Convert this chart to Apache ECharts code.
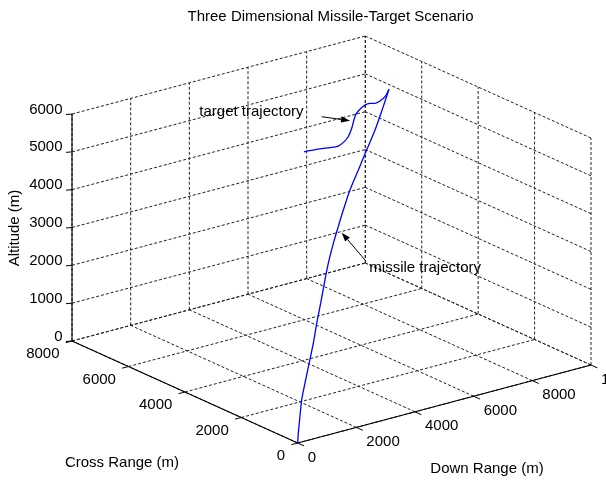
<!DOCTYPE html>
<html>
<head>
<meta charset="utf-8">
<script src="https://cdn.jsdelivr.net/npm/echarts@6/dist/echarts.min.js"></script>
<style>
  html, body { margin: 0; padding: 0; background: #fff; }
  #chart { width: 606px; height: 481px; }
</style>
</head>
<body>
<div id="chart"></div>
<script>
// axis ticks (m)
var downTicks = [0, 2000, 4000, 6000, 8000, 10000];
var crossTicks = [0, 2000, 4000, 6000, 8000];
var altTicks = [0, 1000, 2000, 3000, 4000, 5000, 6000];

// missile path: down range, cross range, altitude (m)
var missileDown = [0, 60, 180, 390, 715, 1040, 1530, 1860, 2255, 2675, 3000, 3490, 3980, 4470, 5125, 5940, 6760, 7575, 8390, 8950];
var missileCross = [0, 40, 120, 265, 485, 705, 1035, 1260, 1530, 1815, 2035, 2365, 2700, 3030, 3475, 4025, 4585, 5135, 5690, 6070];
var missileAlt = [0, 240, 530, 965, 1275, 1555, 1980, 2355, 2715, 3145, 3445, 3760, 3990, 4215, 4460, 4635, 4805, 4980, 5245, 5460];

// target path
var targetDown = [6050, 6485, 6940, 7220, 7425, 7560, 7680, 7755, 7825, 7960, 8130, 8300, 8475, 8645, 8815, 8950];
var targetCross = [6070, 6070, 6070, 6070, 6070, 6070, 6070, 6070, 6070, 6070, 6070, 6070, 6070, 6070, 6070, 6070];
var targetAlt = [4405, 4380, 4330, 4315, 4390, 4490, 4690, 4895, 5035, 5135, 5210, 5220, 5185, 5210, 5290, 5460];

var dMax = 10000, cMax = 8000, aMax = 6000;

// view: projected plane units per metre for each 3d axis
var ex = [0.02933, 0.0078];
var ey = [-0.02821, 0.01275];
var ez = [0, 0.03783];

function proj(d, c, a) {
  return [d * ex[0] + c * ey[0] + a * ez[0], d * ex[1] + c * ey[1] + a * ez[1]];
}

var font = 'Liberation Sans';

// dotted grid on floor and the two back walls
var gridSegs = [];
downTicks.forEach(function (d) {
  gridSegs.push([[d, 0, 0], [d, cMax, 0]]);
  gridSegs.push([[d, cMax, 0], [d, cMax, aMax]]);
});
crossTicks.forEach(function (c) {
  gridSegs.push([[0, c, 0], [dMax, c, 0]]);
  gridSegs.push([[dMax, c, 0], [dMax, c, aMax]]);
});
altTicks.forEach(function (a) {
  gridSegs.push([[0, cMax, a], [dMax, cMax, a]]);
  gridSegs.push([[dMax, 0, a], [dMax, cMax, a]]);
});

// solid axis lines
var axisSegs = [
  [[0, 0, 0], [dMax, 0, 0]],
  [[0, 0, 0], [0, cMax, 0]],
  [[0, cMax, 0], [0, cMax, aMax]]
];

// ticks + labels: point, tick offset (px), label offset (px), align
var tickItems = [];
downTicks.forEach(function (d) {
  tickItems.push({p: [d, 0, 0], t: [6.4, 2.9], l: [10, 14.5], align: 'left', text: String(d)});
});
crossTicks.forEach(function (c) {
  tickItems.push({p: [0, c, 0], t: [-6.3, 1.7], l: [-12.5, 13], align: 'right', text: String(c)});
});
altTicks.forEach(function (a) {
  tickItems.push({p: [0, cMax, a], t: [-6, 0.5], l: [-9.5, -4.5], align: 'right', text: String(a)});
});

// text annotations with arrows (projected plane units)
var notes = [
  {text: 'target trajectory', at: [-98.4, 331.3], from: [24, 326.3], to: [52.3, 322.3]},
  {text: 'missile trajectory', at: [71.6, 174.7], from: [67.3, 183], to: [44, 210.3]}
];

function idx(arr) {
  return arr.map(function (s, i) { return [i, 0]; });
}

function segRender(segs, style) {
  return function (params, api) {
    var s = segs[params.dataIndex];
    var p = api.coord(proj.apply(null, s[0]));
    var q = api.coord(proj.apply(null, s[1]));
    return {
      type: 'line',
      silent: true,
      shape: {x1: p[0], y1: p[1], x2: q[0], y2: q[1]},
      style: style
    };
  };
}

function pathData(ds, cs, as) {
  return ds.map(function (d, i) { return proj(d, cs[i], as[i]); });
}

var chart = echarts.init(document.getElementById('chart'), null, {renderer: 'canvas'});

var option = {
  animation: false,
  backgroundColor: '#fff',
  grid: {left: 0, top: 0, width: 606, height: 481},
  xAxis: {type: 'value', min: -297.7, max: 308.3, show: false},
  yAxis: {type: 'value', min: -38, max: 443, show: false},
  graphic: [
    {type: 'text', x: 330.5, y: 17, style: {text: 'Three Dimensional Missile-Target Scenario', fontSize: 15, fontFamily: font, fill: '#000', align: 'center', verticalAlign: 'middle'}},
    {type: 'text', x: 15, y: 228, rotation: Math.PI / 2, style: {text: 'Altitude (m)', fontSize: 15, fontFamily: font, fill: '#000', align: 'center', verticalAlign: 'middle'}},
    {type: 'text', x: 122, y: 463, style: {text: 'Cross Range (m)', fontSize: 15, fontFamily: font, fill: '#000', align: 'center', verticalAlign: 'middle'}},
    {type: 'text', x: 487, y: 469, style: {text: 'Down Range (m)', fontSize: 15, fontFamily: font, fill: '#000', align: 'center', verticalAlign: 'middle'}}
  ],
  series: [
    {
      type: 'custom',
      clip: false,
      renderItem: segRender(gridSegs, {stroke: '#222', lineWidth: 1, lineDash: [3, 2]}),
      data: idx(gridSegs)
    },
    {
      type: 'custom',
      clip: false,
      renderItem: segRender(axisSegs, {stroke: '#000', lineWidth: 1.1}),
      data: idx(axisSegs)
    },
    {
      type: 'custom',
      clip: false,
      renderItem: function (params, api) {
        var it = tickItems[params.dataIndex];
        var p = api.coord(proj.apply(null, it.p));
        return {
          type: 'group',
          silent: true,
          children: [
            {type: 'line', shape: {x1: p[0], y1: p[1], x2: p[0] + it.t[0], y2: p[1] + it.t[1]}, style: {stroke: '#000', lineWidth: 1}},
            {type: 'text', x: p[0] + it.l[0], y: p[1] + it.l[1], style: {text: it.text, fontSize: 15, fontFamily: font, fill: '#000', align: it.align, verticalAlign: 'middle'}}
          ]
        };
      },
      data: idx(tickItems)
    },
    {
      name: 'target',
      type: 'line',
      data: pathData(targetDown, targetCross, targetAlt),
      showSymbol: false,
      smooth: 0.3,
      lineStyle: {color: '#0000ff', width: 1.3}
    },
    {
      name: 'missile',
      type: 'line',
      data: pathData(missileDown, missileCross, missileAlt),
      showSymbol: false,
      smooth: 0.3,
      lineStyle: {color: '#0000ff', width: 1.3}
    },
    {
      type: 'custom',
      clip: false,
      renderItem: function (params, api) {
        var n = notes[params.dataIndex];
        var t = api.coord(n.at), a = api.coord(n.from), b = api.coord(n.to);
        var dx = b[0] - a[0], dy = b[1] - a[1];
        var len = Math.sqrt(dx * dx + dy * dy);
        var ux = dx / len, uy = dy / len;
        var hl = 9, hw = 3.2;
        var bx = b[0] - ux * hl, by = b[1] - uy * hl;
        return {
          type: 'group',
          silent: true,
          children: [
            {type: 'text', x: t[0], y: t[1], style: {text: n.text, fontSize: 15, fontFamily: font, fill: '#000', align: 'left', verticalAlign: 'middle'}},
            {type: 'line', shape: {x1: a[0], y1: a[1], x2: bx, y2: by}, style: {stroke: '#000', lineWidth: 1}},
            {type: 'polygon', shape: {points: [[b[0], b[1]], [bx - uy * hw, by + ux * hw], [bx + uy * hw, by - ux * hw]]}, style: {fill: '#000'}}
          ]
        };
      },
      data: idx(notes)
    }
  ]
};

chart.setOption(option);
</script>
</body>
</html>
